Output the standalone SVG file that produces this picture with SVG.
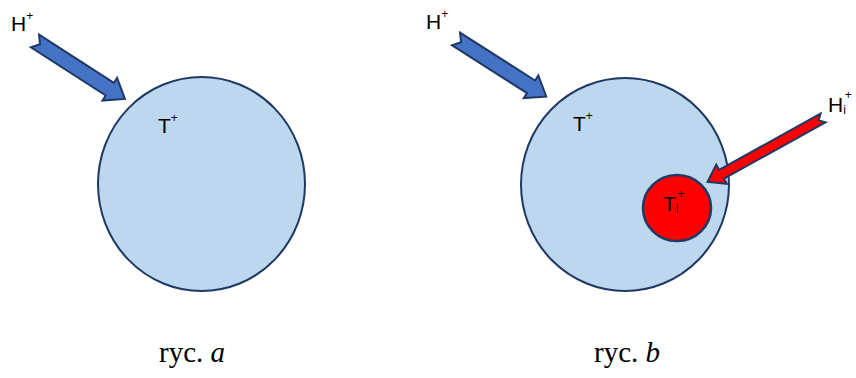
<svg xmlns="http://www.w3.org/2000/svg" width="856" height="378" viewBox="0 0 856 378">
<style>
.cell{fill:#bdd7ee;stroke:#1f3864;stroke-width:2}
.inner{fill:#ff0000;stroke:#1f3864;stroke-width:2.5}
.blue{fill:#4472c4;stroke:#1f3864;stroke-width:2;stroke-linejoin:miter}
.red{fill:#ff0000;stroke:#1f3864;stroke-width:2;stroke-linejoin:miter}
.lbl{font-family:"Liberation Sans",Arial,sans-serif;font-size:21px;fill:#000}
.sup{font-size:12px}
.cap{font-family:"Liberation Serif","Times New Roman",serif;font-size:29px;fill:#000;text-anchor:middle}
</style>
<defs>
<polygon id="bluearrow" points="0,-7.5 89,-7.5 89,-13.5 107,0 89,13.5 89,7.5 0,7.5 6,0"/>
</defs>
<g id="cell-a">
<ellipse class="cell" cx="201.5" cy="184" rx="103.5" ry="107"/>
<text class="lbl" x="158" y="133">T<tspan class="sup" dy="-11">+</tspan></text>
</g>
<g id="cell-b">
<ellipse class="cell" cx="625" cy="184.5" rx="104" ry="106.5"/>
<text class="lbl" x="573" y="131">T<tspan class="sup" dy="-11">+</tspan></text>
</g>
<g id="inner-b">
<ellipse class="inner" cx="677" cy="208" rx="34" ry="33"/>
<text class="lbl" x="663" y="211">T<tspan class="sup" dy="2" font-size="14">i</tspan><tspan class="sup" dy="-15" dx="-1">+</tspan></text>
</g>
<g id="label-h-a">
<text class="lbl" x="11" y="31">H<tspan class="sup" dy="-11">+</tspan></text>
</g>
<g id="label-h-b">
<text class="lbl" x="426" y="29">H<tspan class="sup" dy="-11">+</tspan></text>
</g>
<g id="label-hi-b">
<text class="lbl" x="828" y="112">H<tspan class="sup" dy="2" font-size="14">i</tspan><tspan class="sup" dy="-15" dx="-1">+</tspan></text>
</g>
<g id="connectors">
<use href="#bluearrow" class="blue" transform="translate(35,41) rotate(32.8)"/>
<use href="#bluearrow" class="blue" transform="translate(456,39) rotate(32.5)"/>
<polygon class="red" points="0,-5 116,-5 116,-11 132,0 116,11 116,5 0,5 5,0" transform="translate(823,118) rotate(151)"/>
</g>
<g id="captions">
<text class="cap" x="192" y="362">ryc. <tspan font-style="italic">a</tspan></text>
<text class="cap" x="627" y="362">ryc. <tspan font-style="italic">b</tspan></text>
</g>
</svg>
